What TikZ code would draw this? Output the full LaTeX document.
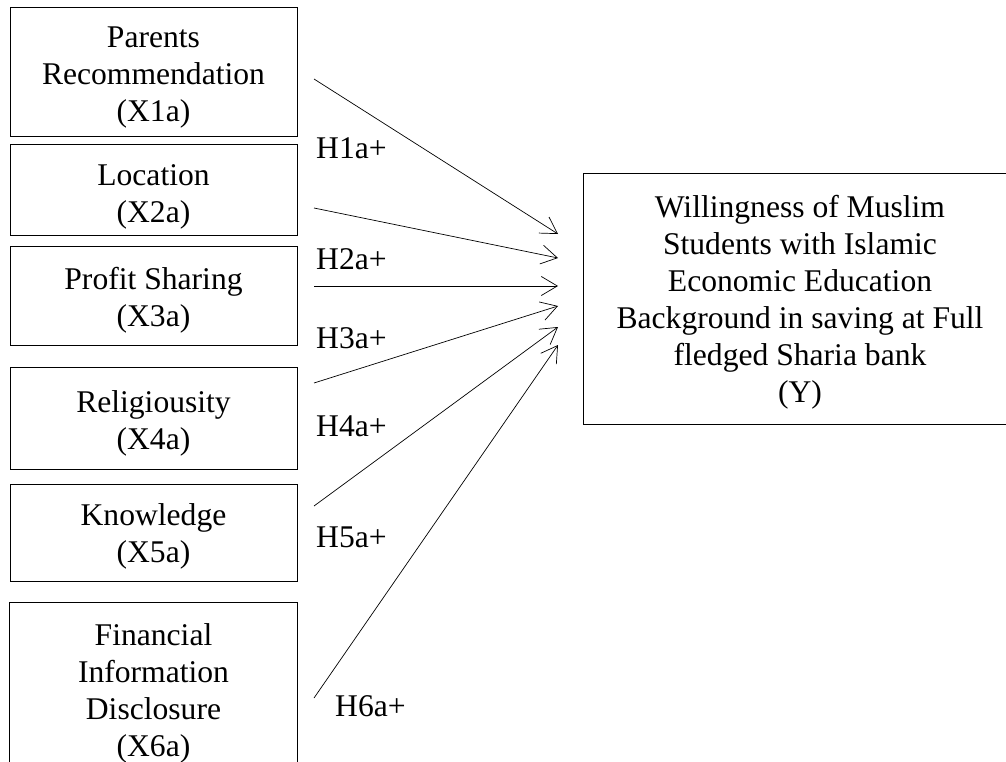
\documentclass[tikz,border=0pt]{standalone}
\usepackage{fontspec}
\setmainfont{Liberation Serif}
\usetikzlibrary{arrows.meta}
\begin{document}
\begin{tikzpicture}[x=1pt,y=-1pt,
  box/.style={draw, line width=1pt, inner sep=0pt},
  openbox/.style={draw=none, inner sep=0pt},
  sides/.style={line width=1pt},
  txt/.style={inner sep=0pt, align=center, font=\fontsize{31.6}{37}\selectfont},
  lbl/.style={anchor=west, inner sep=0pt, font=\fontsize{31.6}{37}\selectfont},
  conn/.style={line width=0.7pt, -{Straight Barb[length=16pt,width=19pt]}}]
\useasboundingbox (0,0) rectangle (1006,762);
\clip (0,0) rectangle (1006,762);
% boxes
\node[box, minimum width=287pt, minimum height=129pt] (x1) at (153.5,72.5) {};
\node[box, minimum width=287pt, minimum height=90pt] (x2) at (153.5,190) {};
\node[box, minimum width=287pt, minimum height=99pt] (x3) at (153.5,295.5) {};
\node[box, minimum width=287pt, minimum height=102pt] (x4) at (153.5,418) {};
\node[box, minimum width=287pt, minimum height=97pt] (x5) at (153.5,532.5) {};
\node[openbox, minimum width=287pt, minimum height=200pt] (x6) at (153.5,703) {};
\draw[sides] (x6.south west) -- (x6.north west) -- (x6.north east) -- (x6.south east);
\node[openbox, minimum width=500pt, minimum height=250pt] (y) at (834,299) {};
\draw[sides] (y.north east) -- (y.north west) -- (y.south west) -- (y.south east);
% texts
\node[txt] (t1) at ([yshift=-5pt]x1.center) {Parents\\Recommendation\\(X1a)};
\node[txt] (t2) at ([yshift=-6.5pt]x2.center) {Location\\(X2a)};
\node[txt] (t3) at ([yshift=-4.5pt]x3.center) {Profit Sharing\\(X3a)};
\node[txt] (t4) at ([yshift=-5pt]x4.center) {Religiousity\\(X4a)};
\node[txt] (t5) at ([yshift=-3.5pt]x5.center) {Knowledge\\(X5a)};
\node[txt] (t6) at (153.5,693) {Financial\\Information\\Disclosure\\(X6a)};
\node[txt] (ty) at (800,302) {Willingness of Muslim\\Students with Islamic\\Economic Education\\Background in saving at Full\\fledged Sharia bank\\(Y)};
% connectors
\coordinate (s1) at (314,79);
\coordinate (s2) at (314,208);
\coordinate (s3) at (314,286);
\coordinate (s4) at (314,383);
\coordinate (s5) at (314,506);
\coordinate (s6) at (314,698);
\coordinate (e1) at (558,234);
\coordinate (e2) at (558,258);
\coordinate (e3) at (558,286);
\coordinate (e4) at (558,306);
\coordinate (e5) at (558,327);
\coordinate (e6) at (558,345);
\draw[conn] (s1) -- (e1);
\draw[conn] (s2) -- (e2);
\draw[conn] (s3) -- (e3);
\draw[conn] (s4) -- (e4);
\draw[conn] (s5) -- (e5);
\draw[conn] (s6) -- (e6);
% labels
\node[lbl] (h1) at (316,148) {H1a+};
\node[lbl] (h2) at (316,259) {H2a+};
\node[lbl] (h3) at (316,338) {H3a+};
\node[lbl] (h4) at (316,426) {H4a+};
\node[lbl] (h5) at (316,537) {H5a+};
\node[lbl] (h6) at (335,706) {H6a+};
\end{tikzpicture}
\end{document}
